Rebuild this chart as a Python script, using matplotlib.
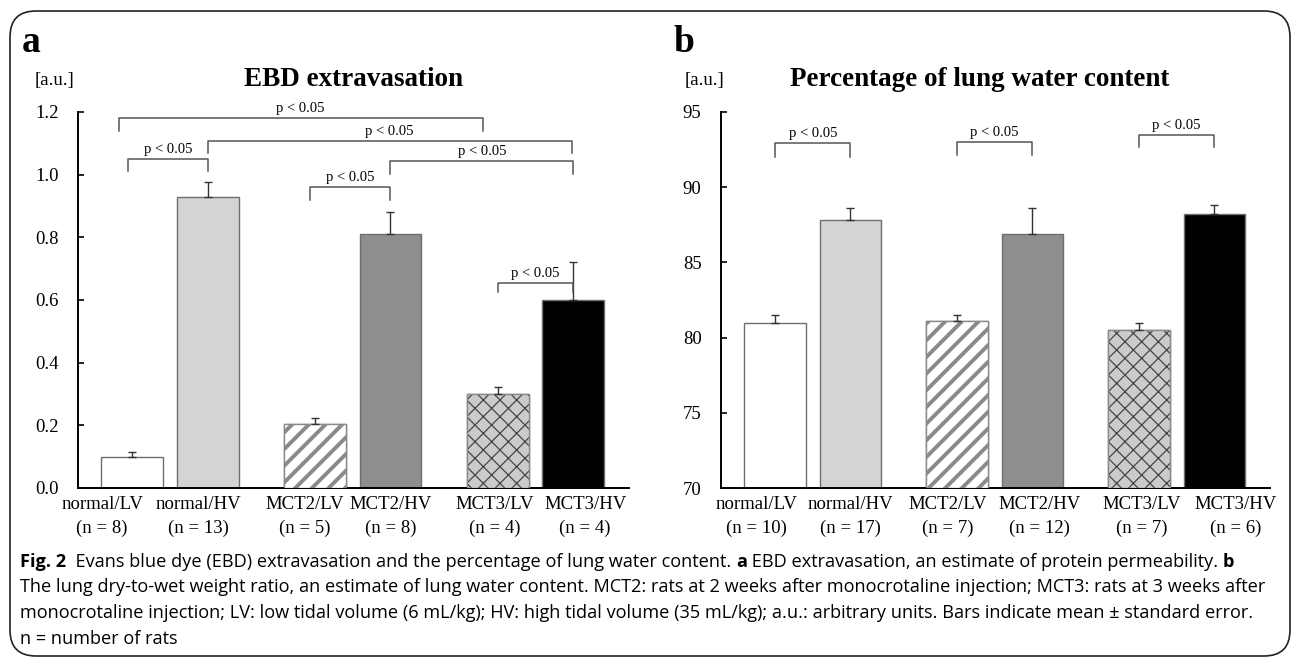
import numpy as np
import matplotlib.pyplot as plt
from matplotlib.patches import FancyBboxPatch
from matplotlib.transforms import IdentityTransform

groups = ['normal/LV', 'normal/HV', 'MCT2/LV', 'MCT2/HV', 'MCT3/LV', 'MCT3/HV']
n_ebd = [8, 13, 5, 8, 4, 4]
n_water = [10, 17, 7, 12, 7, 6]
ebd_mean = [0.10, 0.93, 0.205, 0.81, 0.30, 0.60]
ebd_se = [0.015, 0.045, 0.017, 0.07, 0.022, 0.12]
water_mean = [81.0, 87.8, 81.1, 86.9, 80.5, 88.2]
water_se = [0.5, 0.8, 0.4, 1.7, 0.5, 0.6]
x_pos = [0, 1, 2.42, 3.42, 4.84, 5.84]
# group labels sit a little apart from the bar centres in the original
label_pos_ebd = [-0.4, 0.87, 2.28, 3.42, 4.8, 6.0]
label_pos_water = [-0.25, 1.0, 2.3, 3.52, 4.88, 6.12]

# significance brackets: (bar i, bar j, level, leg drop, left shift, right shift)
ebd_sig = [(0, 4, 1.18, 0.04, -0.18, -0.2),
           (1, 5, 1.107, 0.038, 0.0, -0.02),
           (0, 1, 1.05, 0.038, -0.06, 0.0),
           (3, 5, 1.043, 0.04, 0.0, 0.0),
           (2, 3, 0.96, 0.04, -0.06, 0.0),
           (4, 5, 0.655, 0.03, 0.0, 0.0)]
water_sig = [(0, 1, 92.93, 0.9, 0, 0),
             (2, 3, 93.0, 0.87, 0, 0),
             (4, 5, 93.5, 0.8, 0, 0)]

fills = ['white', '#d4d4d4', 'white', '#8e8e8e', '#cbcbcb', 'black']
hatches = [None, None, '//', None, 'xx', None]
hatch_cols = [None, None, '#8a8a8a', None, '#454545', None]
hatch_lw = [0, 0, 2.8, 0, 0.9, 0]

W, H = 1296, 661
fig = plt.figure(figsize=(12.96, 6.61), dpi=100)
serif = 'Liberation Serif'


def draw_panel(ax, means, errs, base, top, ticks, ns, sig, label_pos):
    heights = [m - base for m in means]
    ax.bar(x_pos, heights, bottom=base, width=0.82, color=fills,
           edgecolor='#6e6e6e', linewidth=1.0, zorder=2)
    for i in range(len(x_pos)):
        if hatches[i]:
            with plt.rc_context({'hatch.linewidth': hatch_lw[i]}):
                b = ax.bar(x_pos[i], heights[i], bottom=base, width=0.82,
                           color=fills[i], edgecolor=hatch_cols[i],
                           hatch=hatches[i], linewidth=0, zorder=3)
            if hasattr(b[0], 'set_hatch_linewidth'):
                b[0].set_hatch_linewidth(hatch_lw[i])
            ax.bar(x_pos[i], heights[i], bottom=base, width=0.82, fill=False,
                   edgecolor='#8a8a8a', linewidth=1.0, zorder=4)
    ax.errorbar(x_pos, means, yerr=[[0] * len(errs), errs], fmt='none',
                ecolor='#333333', elinewidth=1.0, capsize=3, capthick=1.0, zorder=5)
    for i, j, lev, drop, dl, dr in sig:
        x1, x2 = x_pos[i] + dl, x_pos[j] + dr
        ax.plot([x1, x1, x2, x2], [lev - drop, lev, lev, lev - drop],
                color='#555555', lw=1.1, zorder=6, clip_on=False)
        ax.text((x1 + x2) / 2, lev + (top - base) * 0.008, 'p < 0.05',
                ha='center', va='bottom', fontsize=10.5, family=serif)
    ax.set_ylim(base, top)
    ax.set_xlim(-0.72, 6.58)
    ax.set_yticks(ticks)
    ax.set_xticks(label_pos)
    ax.set_xticklabels([f'{g}\n(n = {n})' for g, n in zip(groups, ns)],
                       family=serif, fontsize=13.5, linespacing=1.45)
    for lab in ax.get_yticklabels():
        lab.set_family(serif)
        lab.set_fontsize(13.5)
    ax.tick_params(axis='x', length=0, pad=6)
    ax.tick_params(axis='y', direction='in', length=4, width=1.2, pad=14)
    for s in ['top', 'right']:
        ax.spines[s].set_visible(False)
    for s in ['left', 'bottom']:
        ax.spines[s].set_linewidth(1.4)
        ax.spines[s].set_color('black')


ax1 = fig.add_axes([78 / W, 1 - 488 / H, (629 - 78) / W, (488 - 112) / H])
draw_panel(ax1, ebd_mean, ebd_se, 0.0, 1.2, [0.0, 0.2, 0.4, 0.6, 0.8, 1.0, 1.2],
           n_ebd, ebd_sig, label_pos_ebd)
ax1.set_yticklabels(['0.0', '0.2', '0.4', '0.6', '0.8', '1.0', '1.2'], family=serif, fontsize=13.5)

ax2 = fig.add_axes([721 / W, 1 - 488 / H, (1270 - 721) / W, (488 - 112) / H])
draw_panel(ax2, water_mean, water_se, 70, 95, [70, 75, 80, 85, 90, 95],
           n_water, water_sig, label_pos_water)

# panel letters, units and titles
fig.text(22 / W, 1 - 52 / H, 'a', fontsize=27, fontweight='bold', family=serif)
fig.text(673 / W, 1 - 52 / H, 'b', fontsize=27, fontweight='bold', family=serif)
fig.text(35 / W, 1 - 85 / H, '[a.u.]', fontsize=13.5, family=serif)
fig.text(685 / W, 1 - 85 / H, '[a.u.]', fontsize=13.5, family=serif)
fig.text(353 / W, 1 - 86 / H, 'EBD extravasation', fontsize=19.5, fontweight='bold',
         family=serif, ha='center')
fig.text(980 / W, 1 - 86 / H, 'Percentage of lung water content', fontsize=19.5,
         fontweight='bold', family=serif, ha='center')

# rounded frame
frame = FancyBboxPatch((10 / W, 5 / H), 1280 / W, 645 / H,
                       boxstyle='round,pad=0,rounding_size=0.02',
                       transform=fig.transFigure, fill=False, edgecolor='#222222',
                       linewidth=1.2, mutation_aspect=W / H)
fig.patches.append(frame)

# caption with mixed weights
cap_font = ['Open Sans', 'DejaVu Sans']
cap_size = 13.1
cap_lines = [
    [('Fig. 2', True), ('  Evans blue dye (EBD) extravasation and the percentage of lung water content. ', False),
     ('a', True), (' EBD extravasation, an estimate of protein permeability. ', False), ('b', True)],
    [('The lung dry-to-wet weight ratio, an estimate of lung water content. MCT2: rats at 2 weeks after '
      'monocrotaline injection; MCT3: rats at 3 weeks after', False)],
    [('monocrotaline injection; LV: low tidal volume (6 mL/kg); HV: high tidal volume (35 mL/kg); '
      'a.u.: arbitrary units. Bars indicate mean \u00b1 standard error.', False)],
    [('n = number of rats', False)],
]
renderer = fig.canvas.get_renderer()
for k, parts in enumerate(cap_lines):
    x = 20
    y = H - (567 + k * 25.5)
    for txt, bold in parts:
        t = fig.text(x, y, txt, fontsize=cap_size, family=cap_font,
                     fontweight='bold' if bold else 'normal',
                     transform=IdentityTransform(), va='baseline')
        x += t.get_window_extent(renderer).width

fig.savefig('out.png', dpi=100)
